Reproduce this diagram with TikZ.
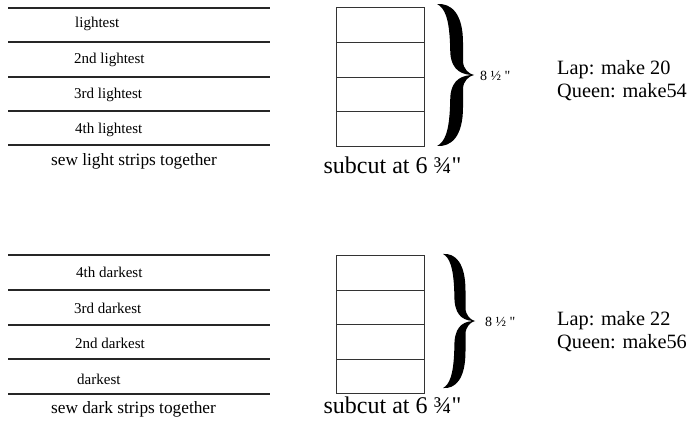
\documentclass[tikz,border=0pt]{standalone}
\usepackage{fontspec}
\setmainfont{Liberation Serif}
\newfontfamily\plainqfont{Liberation Serif}
\newcommand{\straightq}{{\plainqfont\symbol{34}}}
\begin{document}
\begin{tikzpicture}[x=1pt,y=-1pt,
  strip/.style={line width=1.3pt,draw=black!85},
  boxline/.style={line width=0.9pt,draw=black!80},
  lbl/.style={anchor=west,inner sep=0pt,font=\fontsize{15}{17}\selectfont},
  sewlbl/.style={inner sep=0pt,font=\fontsize{17.3}{20}\selectfont},
  cutlbl/.style={inner sep=0pt,font=\fontsize{24}{28}\selectfont},
  sizelbl/.style={anchor=west,inner sep=0pt,font=\fontsize{14}{16}\selectfont},
  makelbl/.style={anchor=west,inner sep=0pt,font=\fontsize{20.3}{22}\selectfont},
  halfbrace/.pic={\fill[black] (0,0.014) .. controls (0.378,0) and (0.703,0.139) .. (0.703,0.556)
      -- (0.703,0.806) .. controls (0.703,0.917) and (0.865,0.986) .. (1,1)
      .. controls (0.7,1) and (0.4,0.95) .. (0.36,0.7)
      -- (0.351,0.556) .. controls (0.324,0.222) and (0.216,0.069) .. (0,0.014) -- cycle;}]
\useasboundingbox (0,0) rectangle (695,427);
% ---- top strips
\foreach \y in {8,42,77,111,145} \draw[strip] (8,\y) -- (270,\y);
\node[lbl] (l1) at (75,23.5) {lightest};
\node[lbl] (l2) at (74,60) {2nd lightest};
\node[lbl] (l3) at (74,95) {3rd lightest};
\node[lbl] (l4) at (75,130) {4th lightest};
\node[sewlbl] (sewl) at (134,161) {sew light strips together};
% ---- top block
\draw[boxline] (336,7) rectangle (424,146);
\foreach \y in {42,77,111} \draw[boxline] (336,\y) -- (424,\y);
\coordinate (br1top) at (437,3);
\coordinate (br1bot) at (437,147);
\pic[xscale=37,yscale=72] at (br1top) {halfbrace};
\pic[xscale=37,yscale=-72] at (br1bot) {halfbrace};
\node[sizelbl] (s1) at (480,76) {8 ½ \straightq};
\node[cutlbl] (c1) at (392.5,165.5) {subcut at 6 ¾\straightq};
\node[makelbl] (m1) at (557,70) {Lap: make 20};
\node[makelbl] (q1) at (557,92) {Queen: make54};
% ---- bottom strips
\foreach \y in {255,290,325,359,394} \draw[strip] (8,\y) -- (270,\y);
\node[lbl] (d4) at (76,272) {4th darkest};
\node[lbl] (d3) at (74,308) {3rd darkest};
\node[lbl] (d2) at (75,343) {2nd darkest};
\node[lbl] (d1) at (77,379) {darkest};
\node[sewlbl] (sewd) at (133.5,409.5) {sew dark strips together};
% ---- bottom block
\draw[boxline] (336,255) rectangle (424,393);
\foreach \y in {290,324,359} \draw[boxline] (336,\y) -- (424,\y);
\coordinate (br2top) at (443,253);
\coordinate (br2bot) at (443,389);
\pic[xscale=32,yscale=68] at (br2top) {halfbrace};
\pic[xscale=32,yscale=-68] at (br2bot) {halfbrace};
\node[sizelbl] (s2) at (485,322) {8 ½ \straightq};
\node[cutlbl] (c2) at (392.5,405) {subcut at 6 ¾\straightq};
\node[makelbl] (m2) at (557,320.5) {Lap: make 22};
\node[makelbl] (q2) at (557,343.5) {Queen: make56};
\end{tikzpicture}
\end{document}
